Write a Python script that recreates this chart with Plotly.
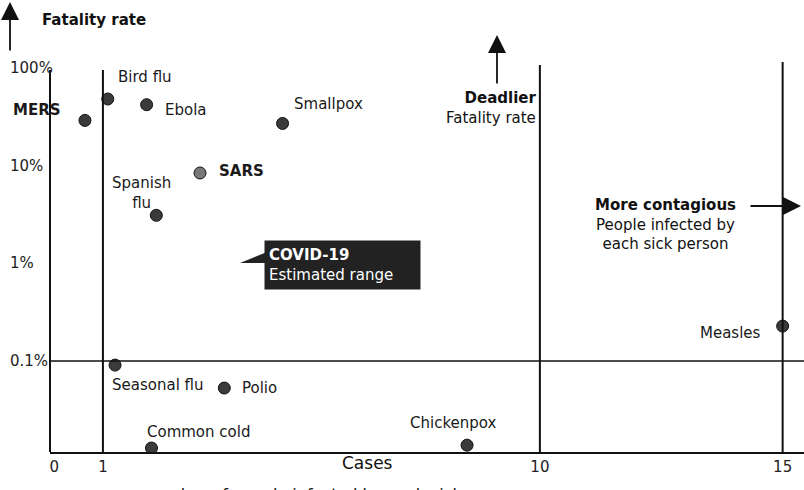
import math

import plotly.graph_objects as go

# data: people infected by each sick person (x) vs fatality rate in % (y)
diseases = ["MERS", "Bird flu", "Ebola", "Smallpox", "SARS", "Spanish<br>flu",
            "Seasonal flu", "Polio", "Common cold", "Chickenpox", "Measles"]
cases = [0.63, 1.1, 1.9, 4.7, 3.0, 2.1, 1.25, 3.5, 2.0, 8.5, 15.0]
fatality = [29, 48, 42, 27, 8.4, 3.1, 0.091, 0.053, 0.0129, 0.0138, 0.228]
bold_names = ["MERS", "SARS"]

x_ticks = [0, 1, 10, 15]
y_ticks = [100, 10, 1, 0.1]
y_tick_text = ["100%", "10%", "1%", "0.1%"]

# label offsets (px) relative to each marker
label_shift = {
    "MERS": (-48, 10), "Bird flu": (37, 22), "Ebola": (39, -5),
    "Smallpox": (46, 19), "SARS": (41, 2), "Spanish<br>flu": (-15, 22),
    "Seasonal flu": (43, -20), "Polio": (35, 0), "Common cold": (47, 16),
    "Chickenpox": (-14, 22), "Measles": (-52, -7),
}

W, H = 804, 490
L, R, T, B = 50, 0, 62, 38
FONT = "DejaVu Sans"
INK = "#1a1a1a"


def px(x):
    return (x - L) / (W - L - R)


def py(y):
    return (H - B - y) / (H - T - B)


marker_colors = ["#777777" if d == "SARS" else "#3b3b3b" for d in diseases]

fig = go.Figure()
fig.add_trace(go.Scatter(
    x=cases, y=fatality, mode="markers",
    marker=dict(size=12, color=marker_colors, line=dict(color="#111111", width=1)),
    hoverinfo="text", text=diseases, showlegend=False,
))

for name, cx, cy in zip(diseases, cases, fatality):
    dx, dy = label_shift[name]
    txt = f"<b>{name}</b>" if name in bold_names else name
    fig.add_annotation(x=cx, y=math.log10(cy), text=txt, showarrow=False,
                       xanchor="center", yanchor="middle", xshift=dx, yshift=dy,
                       font=dict(family=FONT, size=15, color=INK))

# y tick labels, left aligned like the print
for v, t in zip(y_ticks, y_tick_text):
    fig.add_annotation(xref="paper", yref="y", x=px(8), y=math.log10(v), text=t,
                       xanchor="left", yanchor="middle", showarrow=False,
                       font=dict(family=FONT, size=15, color="#222222"))

line_style = dict(color="#111111", width=2)
fig.add_shape(type="line", xref="paper", yref="y", x0=0, x1=0, y0=0.0117, y1=95, line=line_style)
fig.add_shape(type="line", x0=1, x1=1, y0=0.0117, y1=95, line=line_style)
fig.add_shape(type="line", x0=10, x1=10, y0=0.0117, y1=107, line=line_style)
fig.add_shape(type="line", x0=15, x1=15, y0=0.0117, y1=115, line=line_style)
fig.add_shape(type="line", xref="paper", x0=0, x1=1, y0=0.1, y1=0.1,
              line=dict(color="#111111", width=1.5))

# COVID-19 callout
fig.add_shape(type="path", xref="paper", yref="paper",
              path=f"M {px(240)} {py(263)} L {px(267)} {py(252)} L {px(267)} {py(263)} Z",
              fillcolor="#222222", line=dict(width=0))
fig.add_annotation(xref="paper", yref="paper", x=px(342), y=py(265),
                   xanchor="center", yanchor="middle",
                   text="<b>COVID-19</b><br>Estimated range", showarrow=False,
                   align="left", bgcolor="#222222", width=147, height=40, borderpad=4,
                   font=dict(family=FONT, size=15, color="white"))

# axis titles and direction arrows
arrow = dict(showarrow=True, arrowhead=2, arrowsize=2, arrowwidth=1.8, arrowcolor="#111111",
             xref="paper", yref="paper", text="")
fig.add_annotation(x=px(10), y=py(2), ax=0, ay=50, **arrow)
fig.add_annotation(x=px(497), y=py(35), ax=0, ay=50, **arrow)
fig.add_annotation(x=px(801), y=py(206), ax=-52, ay=0, **arrow)

texts = [
    ("<b>Fatality rate</b>", 40, 20, "left", 15),
    ("<b>Deadlier</b><br>Fatality rate", 538, 108, "right", 15),
    ("<b>More contagious</b><br>People infected by<br>each sick person", 665, 225, "center", 15),
    ("Cases", 367, 463, "center", 17),
    ("number of people infected by each sick person", 333, 494, "center", 16),
]
for txt, tx, ty, anchor, size in texts:
    fig.add_annotation(xref="paper", yref="paper", x=px(tx), y=py(ty), text=txt,
                       xanchor=anchor, yanchor="middle", align=anchor, showarrow=False,
                       font=dict(family=FONT, size=size, color="#111111"))

fig.update_xaxes(range=[-0.09, 15.44], tickvals=x_ticks, ticktext=[str(t) for t in x_ticks],
                 showgrid=False, zeroline=False, showline=True, linecolor="#111111",
                 linewidth=2, ticks="", tickfont=dict(family=FONT, size=15, color="#222222"))
fig.update_yaxes(type="log", range=[-1.93, 2.06], showticklabels=False,
                 showgrid=False, zeroline=False, showline=False, ticks="")
fig.update_layout(width=W, height=H, margin=dict(l=L, r=R, t=T, b=B),
                  plot_bgcolor="white", paper_bgcolor="white",
                  font=dict(family=FONT))

fig.write_html("out.html", config={"displayModeBar": False},
               post_script="document.body.style.margin = '0';")
